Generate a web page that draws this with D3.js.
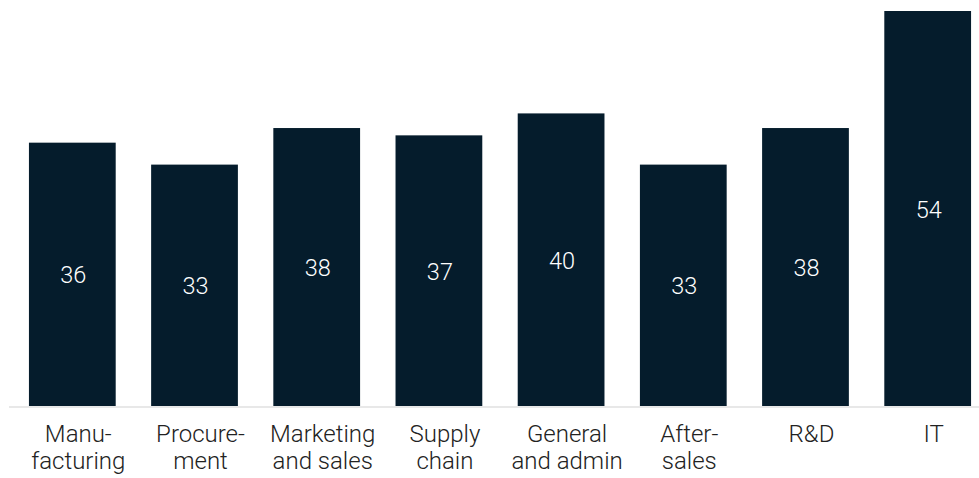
<!DOCTYPE html>
<html>
<head>
<meta charset="utf-8">
<script src="https://cdn.jsdelivr.net/npm/d3@7"></script>
<style>
  body { margin: 0; background: #fff; }
  svg { display: block; font-family: Roboto, "Liberation Sans", Arial, sans-serif; font-weight: 300; }
</style>
</head>
<body>
<div id="chart"></div>
<script>
// category labels, split into lines
const categories = ["Manufacturing", "Procurement", "Marketing and sales", "Supply chain",
    "General and admin", "After-sales", "R&D", "IT"];
const labelLines = [["Manu-", "facturing"], ["Procure-", "ment"], ["Marketing", "and sales"],
    ["Supply", "chain"], ["General", "and admin"], ["After-", "sales"], ["R&D"], ["IT"]];
const values = [36, 33, 38, 37, 40, 33, 38, 54];

const width = 979, height = 478;
const baseY = 406;

let svg = d3.select("#chart").append("svg")
    .attr("width", width)
    .attr("height", height);

let x = d3.scaleBand()
    .domain(categories)
    .range([10, 990])
    .paddingInner(0.29)
    .paddingOuter(0.155);

let y = d3.scaleLinear()
    .domain([0, 54])
    .range([baseY, 11]);

// bars
svg.selectAll("rect.bar")
    .data(values)
    .enter()
    .append("rect")
    .attr("class", "bar")
    .attr("fill", "#051c2c")
    .attr("x", (d, i) => x(categories[i]))
    .attr("y", d => y(d))
    .attr("width", x.bandwidth())
    .attr("height", d => baseY - y(d));

// value labels in the middle of each bar
svg.selectAll("text.val")
    .data(values)
    .enter()
    .append("text")
    .attr("class", "val")
    .attr("fill", "#ffffff")
    .attr("font-size", "23.5px")
    .attr("text-anchor", "middle")
    .attr("dominant-baseline", "central")
    .attr("x", (d, i) => x(categories[i]) + x.bandwidth() / 2 + 1)
    .attr("y", d => (y(d) + baseY) / 2 + 1)
    .text(d => d);

// baseline
svg.append("line")
    .attr("x1", 9)
    .attr("x2", width)
    .attr("y1", baseY + 1)
    .attr("y2", baseY + 1)
    .attr("stroke", "#e0e0e0")
    .attr("stroke-width", 1.5);

// category labels (sit a little right of the bar centres)
let lab = svg.selectAll("text.cat")
    .data(labelLines)
    .enter()
    .append("text")
    .attr("class", "cat")
    .attr("fill", "#222")
    .attr("font-size", "24px")
    .attr("text-anchor", "middle")
    .attr("x", (d, i) => x(categories[i]) + x.bandwidth() / 2 + 6)
    .attr("y", 442);

lab.selectAll("tspan")
    .data(d => d)
    .enter()
    .append("tspan")
    .attr("x", function () { return this.parentNode.getAttribute("x"); })
    .attr("dy", (d, i) => i === 0 ? 0 : 26.5)
    .text(d => d);
</script>
</body>
</html>
